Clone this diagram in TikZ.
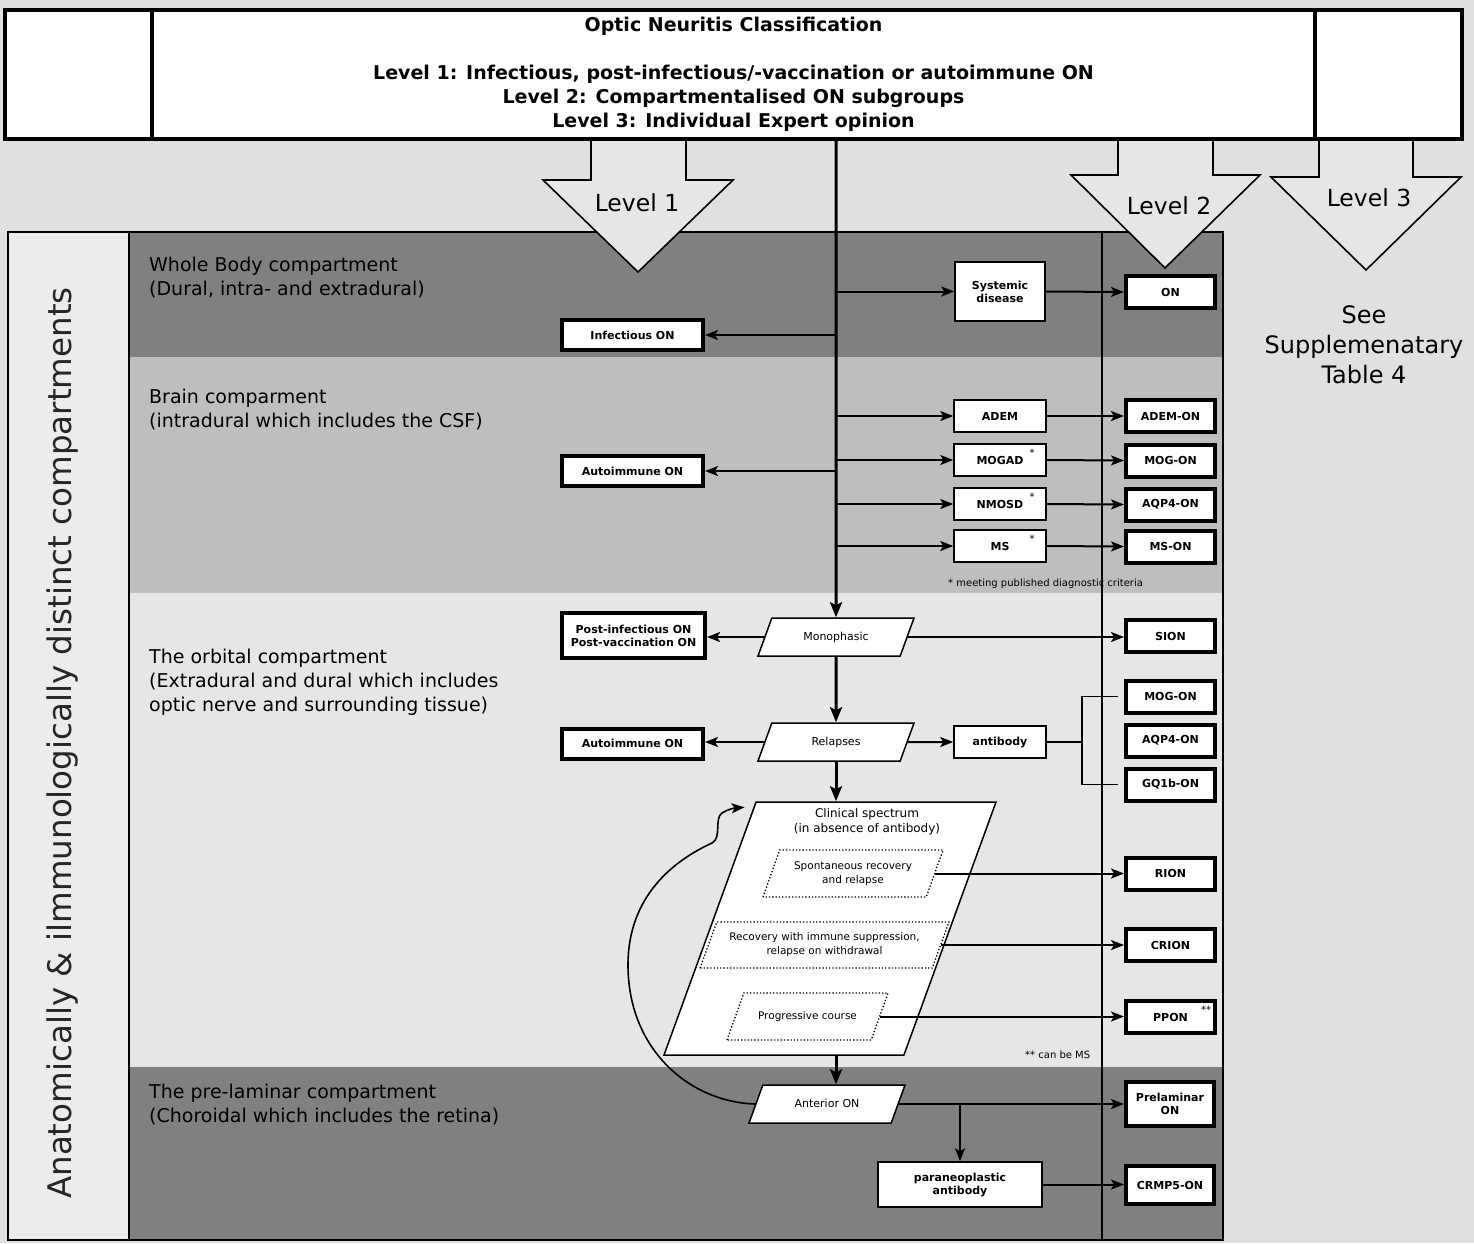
\documentclass[tikz,border=0pt]{standalone}
\usepackage{fontspec}
\setmainfont{DejaVu Sans}
\usetikzlibrary{arrows.meta,shapes.geometric,positioning}

\definecolor{bgGray}{RGB}{224,224,224}
\definecolor{darkBand}{RGB}{128,128,128}
\definecolor{midBand}{RGB}{190,190,190}
\definecolor{lightBand}{RGB}{230,230,230}
\definecolor{sidePanel}{RGB}{236,236,236}

\tikzset{
  topbox/.style={draw, fill=white, line width=4pt, minimum height=129pt, inner sep=0pt},
  comptext/.style={anchor=west, align=left, font=\fontsize{19}{24}\selectfont, inner sep=0pt},
  levelarrow/.style={draw, fill=lightBand, line width=1.6pt, line join=miter},
  leveltext/.style={font=\fontsize{23.5}{30}\selectfont, inner sep=0pt},
  subbox/.style={draw, fill=white, line width=1.5pt, font=\fontsize{11}{13}\selectfont\bfseries, align=center, minimum width=92pt, minimum height=32pt, inner sep=1pt},
  onbox/.style={draw, fill=white, line width=4pt, font=\fontsize{11}{13}\selectfont\bfseries, align=center, minimum width=89pt, minimum height=32pt, inner sep=1pt},
  leftbox/.style={onbox, minimum width=141pt, minimum height=30pt},
  para/.style={trapezium, trapezium left angle=70, trapezium right angle=110, trapezium stretches body, draw, fill=white, line width=1.5pt, font=\fontsize{11}{13}\selectfont, align=center, inner xsep=1pt, inner ysep=13.5pt, text height=8.5pt, text depth=2.5pt, minimum width=156pt, minimum height=38pt},
  subpara/.style={trapezium, trapezium left angle=70, trapezium right angle=110, trapezium stretches body, draw, fill=white, dotted, line width=1.3pt, font=\fontsize{10.5}{14}\selectfont, align=center, inner xsep=1pt, inner ysep=11pt},
  note/.style={font=\fontsize{10}{12}\selectfont, inner sep=0pt},
  flow/.style={-{Stealth[length=13pt,width=10pt,inset=3pt]}, line width=2pt},
  spinearrow/.style={-{Stealth[length=15pt,width=12pt,inset=3pt]}, line width=3pt},
  bracket/.style={line width=1.5pt}
}

\begin{document}
\begin{tikzpicture}[x=1pt,y=-1pt]
\fill[bgGray] (0,0) rectangle (1474,1243);
\useasboundingbox (0,0) rectangle (1474,1243);

% Compartments
\fill[sidePanel] (8,232) rectangle (129,1240);
\draw[line width=1.2pt] (8,232) rectangle (129,1240);
\fill[darkBand] (129,232) rectangle (1223,357);
\fill[midBand] (129,357) rectangle (1223,593);
\fill[lightBand] (129,593) rectangle (1223,1067);
\fill[darkBand] (129,1067) rectangle (1223,1240);
\draw[line width=1.2pt] (129,232) rectangle (1223,1240);
\draw[line width=1.2pt] (1102,232) -- (1102,1240);

\node (sidetxt) [rotate=90, font=\fontsize{32.5}{36}\selectfont, text=black!85] at (63,743) {Anatomically \& ilmmunologically distinct compartments};

\node (wholetxt) [comptext] at (149,278) {Whole Body compartment\\(Dural, intra- and extradural)};
\node (braintxt) [comptext] at (149,410) {Brain comparment\\(intradural which includes the CSF)};
\node (orbittxt) [comptext] at (149,682) {The orbital compartment\\(Extradural and dural which includes\\optic nerve and surrounding tissue)};
\node (prelamtxt) [comptext] at (149,1105) {The pre-laminar compartment\\(Choroidal which includes the retina)};

% Level arrows
\draw[levelarrow] (591,139) -- (591,180) -- (543,180) -- (638,272) -- (733,180) -- (686,180) -- (686,139);
\draw[levelarrow] (1118,139) -- (1118,175) -- (1071,175) -- (1165,268) -- (1260,175) -- (1213,175) -- (1213,139);
\draw[levelarrow] (1319,139) -- (1319,177) -- (1271,177) -- (1366,270) -- (1461,177) -- (1413,177) -- (1413,139);
\node (lvlone) [leveltext] at (637,203) {Level 1};
\node (lvltwo) [leveltext] at (1169,206) {Level 2};
\node (lvlthree) [leveltext] at (1369,198) {Level 3};
\node (supp) [font=\fontsize{24}{30}\selectfont, align=center, inner sep=0pt] at (1364,345) {See\\Supplemenatary\\Table 4};

% Header
\node (lside) [topbox, minimum width=147pt] at (78.5,74.5) {};
\node (rside) [topbox, minimum width=147pt] at (1388.5,74.5) {};
\node (title) [topbox, minimum width=1163pt, font=\fontsize{19}{24}\selectfont\bfseries, align=center] at (733.5,74.5) {Optic Neuritis Classification\\[24pt]Level 1: Infectious, post-infectious/-vaccination or autoimmune ON\\Level 2: Compartmentalised ON subgroups\\Level 3: Individual Expert opinion};
\coordinate (spine) at (836,139);

% Whole body
\node (sys) [subbox, minimum width=90pt, minimum height=59pt] at (1000,291.5) {Systemic\\disease};
\node (onall) [onbox] at (1170.5,292) {ON};
\node (infect) [leftbox] at (632.5,335) {Infectious ON};

% Brain
\node (adem) [subbox] at (1000,416) {ADEM};
\node (mogad) [subbox] at (1000,460) {MOGAD};
\node (nmosd) [subbox] at (1000,504) {NMOSD};
\node (ms) [subbox] at (1000,546) {MS};
\node (ademon) [onbox] at (1170.5,416) {ADEM-ON};
\node (mogon) [onbox] at (1170.5,460.5) {MOG-ON};
\node (aqpon) [onbox] at (1170.5,504.5) {AQP4-ON};
\node (mson) [onbox] at (1170.5,546.5) {MS-ON};
\node (autoone) [leftbox] at (632.5,471) {Autoimmune ON};
\node (astone) [note] at (1032,453) {*};
\node (asttwo) [note] at (1032,497) {*};
\node (astthree) [note] at (1032,539) {*};
\node (critnote) [note, anchor=west] at (948,584) {* meeting published diagnostic criteria};

% Orbital
\node (mono) [para] at (836,637) {Monophasic};
\node (postinf) [leftbox, minimum width=143pt, minimum height=45pt] at (633.5,635.5) {Post-infectious ON\\Post-vaccination ON};
\node (sion) [onbox] at (1170.5,636) {SION};
\node (relap) [para] at (836,742) {Relapses};
\node (autotwo) [leftbox] at (632.5,743.5) {Autoimmune ON};
\node (anti) [subbox] at (1000,742) {antibody};
\node (mogtwo) [onbox] at (1170.5,696.5) {MOG-ON};
\node (aqptwo) [onbox] at (1170.5,740.5) {AQP4-ON};
\node (gqon) [onbox] at (1170.5,784.5) {GQ1b-ON};
\node (clin) [para, minimum width=332pt, inner sep=0pt, text height=253pt, text depth=0pt] at (830,928.5) {};
\node (clintxt) [font=\fontsize{12}{15}\selectfont, align=center, inner sep=0pt] at (867,821.5) {Clinical spectrum\\(in absence of antibody)};
\node (spont) [subpara, minimum width=180pt, minimum height=47pt] at (853,873.5) {Spontaneous recovery\\and relapse};
\node (recov) [subpara, minimum width=249pt, minimum height=46pt] at (824.5,945) {Recovery with immune suppression,\\relapse on withdrawal};
\node (prog) [subpara, minimum width=161pt, minimum height=47pt, inner ysep=18pt] at (807.5,1016.5) {Progressive course};
\node (rion) [onbox] at (1170.5,873.5) {RION};
\node (crion) [onbox] at (1170.5,945) {CRION};
\node (ppon) [onbox] at (1170.5,1017) {PPON};
\node (astfour) [note] at (1206,1010) {**};
\node (msnote) [note, anchor=west] at (1025,1055) {** can be MS};

% Pre-laminar
\node (ant) [para] at (827,1104) {Anterior ON};
\node (prelam) [onbox, minimum width=88pt, minimum height=44pt] at (1170,1104) {Prelaminar\\ON};
\node (para) [subbox, minimum width=164pt, minimum height=45pt] at (960,1184.5) {paraneoplastic\\antibody};
\node (crmp) [onbox, minimum width=88pt, minimum height=38pt] at (1170,1185) {CRMP5-ON};

% Arrows
\draw[spinearrow] (spine) -- (mono.north);
\draw[flow] (spine |- sys.west) -- (sys.west);
\draw[flow] (sys.east) -- (onall.west);
\draw[flow] (spine |- infect.east) -- (infect.east);
\draw[flow] (spine |- adem.west) -- (adem.west);
\draw[flow] (spine |- mogad.west) -- (mogad.west);
\draw[flow] (spine |- nmosd.west) -- (nmosd.west);
\draw[flow] (spine |- ms.west) -- (ms.west);
\draw[flow] (adem.east) -- (ademon.west);
\draw[flow] (mogad.east) -- (mogon.west);
\draw[flow] (nmosd.east) -- (aqpon.west);
\draw[flow] (ms.east) -- (mson.west);
\draw[flow] (spine |- autoone.east) -- (autoone.east);

\draw[flow] (mono.west) -- (mono.west -| postinf.east);
\draw[flow] (mono.east) -- (mono.east -| sion.west);
\draw[spinearrow] (mono.south) -- (relap.north);
\draw[flow] (relap.west) -- (relap.west -| autotwo.east);
\draw[flow] (relap.east) -- (anti.west);
\coordinate (abjoin) at (1082,742);
\draw[bracket] (anti.east) -- (abjoin);
\draw[bracket] ([xshift=-6pt]mogtwo.west) -| (abjoin) |- ([xshift=-6pt]gqon.west);
\draw[spinearrow] (relap.south) -- (relap.south |- clin.north);

\draw[flow] (spont.east) -- (spont.east -| rion.west);
\draw[flow] (recov.east) -- (recov.east -| crion.west);
\draw[flow] (prog.east) -- (prog.east -| ppon.west);
\draw[spinearrow] (clin.south -| mono.south) -- (ant.north -| mono.south);

\coordinate (loopend) at ([xshift=-11pt,yshift=-6pt]clin.top left corner);
\draw[flow, line width=1.6pt] (ant.west) .. controls (690,1102) and (628,1050) .. (628,965) .. controls (628,895) and (675,860) .. (712,843) .. controls (722,838) and (714,818) .. (722,813) .. controls (728,809) and (735,808) .. (loopend);

\draw[flow] (ant.east) -- (ant.east -| prelam.west);
\draw[flow] (para.north |- ant.east) -- (para.north);
\draw[flow] (para.east) -- (para.east -| crmp.west);
\end{tikzpicture}
\end{document}
